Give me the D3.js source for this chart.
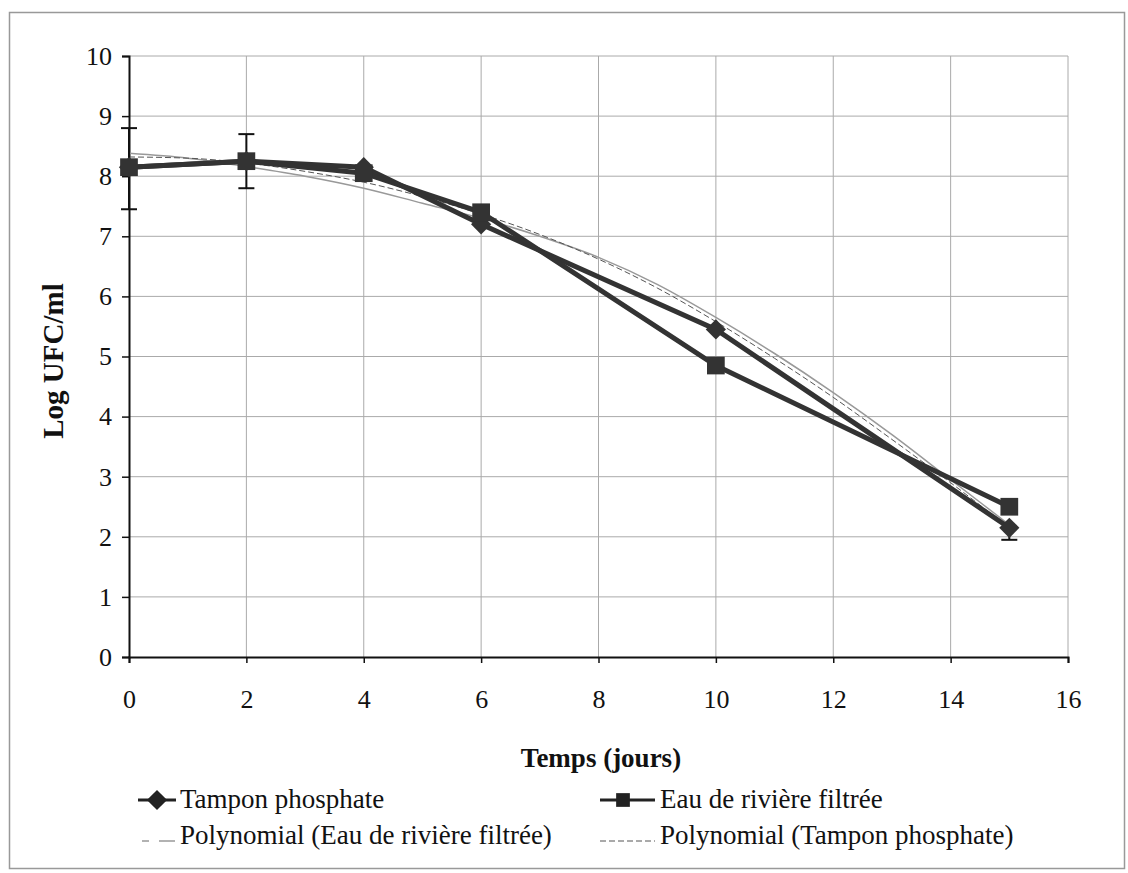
<!DOCTYPE html>
<html>
<head>
<meta charset="utf-8">
<script src="https://d3js.org/d3.v7.min.js"></script>
<style>
  body { margin: 0; background: #fff; }
  svg text { font-family: "Liberation Serif", "DejaVu Serif", serif; fill: #111; }
</style>
</head>
<body>
<div id="chart"></div>
<script>
// data
var days = [0, 2, 4, 6, 10, 15];
var tampon = [8.15, 8.25, 8.15, 7.2, 5.45, 2.15];
var eau = [8.15, 8.25, 8.05, 7.4, 4.85, 2.5];
var errLow = [7.45, 7.8, null, null, null, 1.95];
var errHigh = [8.8, 8.7, null, null, null, 2.15];

// trendlines, sampled every day
var trendDays = [0, 1, 2, 3, 4, 5, 6, 7, 8, 9, 10, 11, 12, 13, 14, 15];
var trendEau = [8.38, 8.3, 8.16, 8.0, 7.8, 7.55, 7.3, 7.0, 6.65, 6.2, 5.65, 5.05, 4.4, 3.7, 2.95, 2.2];
var trendTampon = [8.32, 8.3, 8.22, 8.08, 7.9, 7.66, 7.37, 7.03, 6.62, 6.14, 5.58, 4.97, 4.32, 3.62, 2.9, 2.15];

var xTicks = [0, 2, 4, 6, 8, 10, 12, 14, 16];
var yTicks = [0, 1, 2, 3, 4, 5, 6, 7, 8, 9, 10];

var svgW = 1128, svgH = 873;
var margin = {top: 56, right: 60, bottom: 216, left: 129};
var width = 1068 - margin.left;
var height = 657 - margin.top;

var svg = d3.select("#chart").append("svg")
  .attr("width", svgW)
  .attr("height", svgH);

// outer frame
svg.append("rect")
  .attr("x", 9.5).attr("y", 12.5)
  .attr("width", 1115).attr("height", 856)
  .attr("fill", "none").attr("stroke", "#999").attr("stroke-width", 1.5);

var g = svg.append("g").attr("transform", `translate(${margin.left}, ${margin.top})`);

var x = d3.scaleLinear().domain([0, 16]).range([0, width]);
var y = d3.scaleLinear().domain([0, 10]).range([height, 0]);

// gridlines
g.append("g").selectAll("line").data(yTicks.slice(1)).enter().append("line")
  .attr("x1", 0).attr("x2", width)
  .attr("y1", d => y(d)).attr("y2", d => y(d))
  .attr("stroke", "#aaa").attr("stroke-width", 1);
g.append("g").selectAll("line").data(xTicks.slice(1)).enter().append("line")
  .attr("y1", 0).attr("y2", height)
  .attr("x1", d => x(d)).attr("x2", d => x(d))
  .attr("stroke", "#aaa").attr("stroke-width", 1);

// axes
var bottomAxis = d3.axisBottom(x).tickValues(xTicks).tickSize(6).tickPadding(27);
var leftAxis = d3.axisLeft(y).tickValues(yTicks).tickSize(7).tickPadding(10);

var xg = g.append("g").attr("transform", `translate(0, ${height})`).call(bottomAxis);
var yg = g.append("g").call(leftAxis);
[xg, yg].forEach(function(a) {
  a.attr("font-family", null).attr("font-size", null);
  a.select(".domain").attr("stroke", "#111").attr("stroke-width", 2);
  a.selectAll(".tick line").attr("stroke", "#111").attr("stroke-width", 1.5);
  a.selectAll(".tick text").style("font-size", "26px");
});

// trendlines
var trendLine = d3.line().x((d, i) => x(trendDays[i])).y(d => y(d)).curve(d3.curveMonotoneX);
g.append("path").datum(trendEau)
  .attr("d", trendLine).attr("fill", "none")
  .attr("stroke", "#999").attr("stroke-width", 1.5);
g.append("path").datum(trendTampon)
  .attr("d", trendLine).attr("fill", "none")
  .attr("stroke", "#555").attr("stroke-width", 1).attr("stroke-dasharray", "6,3");

// error bars
var errs = days.map((d, i) => ({d: d, lo: errLow[i], hi: errHigh[i]})).filter(e => e.lo != null);
var eg = g.append("g").attr("stroke", "#111").attr("stroke-width", 2);
errs.forEach(function(e) {
  eg.append("line").attr("x1", x(e.d)).attr("x2", x(e.d)).attr("y1", y(e.lo)).attr("y2", y(e.hi));
  eg.append("line").attr("x1", x(e.d) - 8).attr("x2", x(e.d) + 8).attr("y1", y(e.lo)).attr("y2", y(e.lo));
  eg.append("line").attr("x1", x(e.d) - 8).attr("x2", x(e.d) + 8).attr("y1", y(e.hi)).attr("y2", y(e.hi));
});

// series lines
var line = d3.line().x((d, i) => x(days[i])).y(d => y(d));
g.append("path").datum(tampon).attr("d", line)
  .attr("fill", "none").attr("stroke", "#333").attr("stroke-width", 5);
g.append("path").datum(eau).attr("d", line)
  .attr("fill", "none").attr("stroke", "#333").attr("stroke-width", 5);

// markers
var diamond = d3.symbol().type(d3.symbolDiamond2).size(260);
var square = d3.symbol().type(d3.symbolSquare2).size(400);
g.selectAll(".dia").data(tampon).enter().append("path")
  .attr("class", "dia")
  .attr("transform", (d, i) => `translate(${x(days[i])}, ${y(d)})`)
  .attr("d", diamond).attr("fill", "#333");
g.selectAll(".sq").data(eau).enter().append("path")
  .attr("class", "sq")
  .attr("transform", (d, i) => `translate(${x(days[i])}, ${y(d)})`)
  .attr("d", square).attr("fill", "#333");

// axis titles
svg.append("text")
  .attr("transform", "translate(63, 361) rotate(-90)")
  .attr("text-anchor", "middle")
  .style("font-size", "29px").style("font-weight", "bold")
  .text("Log UFC/ml");
svg.append("text")
  .attr("x", 601).attr("y", 767)
  .attr("text-anchor", "middle")
  .style("font-size", "27px").style("font-weight", "bold")
  .text("Temps (jours)");

// legend
var leg = svg.append("g");
function legText(xp, yp, t) {
  leg.append("text").attr("x", xp).attr("y", yp).style("font-size", "27px").text(t);
}
leg.append("line").attr("x1", 138).attr("x2", 176).attr("y1", 800).attr("y2", 800)
  .attr("stroke", "#222").attr("stroke-width", 3);
leg.append("path").attr("transform", "translate(157, 800)").attr("d", diamond).attr("fill", "#222");
legText(180, 808, "Tampon phosphate");

leg.append("line").attr("x1", 600).attr("x2", 655).attr("y1", 800).attr("y2", 800)
  .attr("stroke", "#222").attr("stroke-width", 3);
leg.append("path").attr("transform", "translate(623, 800)")
  .attr("d", d3.symbol().type(d3.symbolSquare2).size(240)).attr("fill", "#222");
legText(660, 808, "Eau de rivière filtrée");

leg.append("line").attr("x1", 142).attr("x2", 175).attr("y1", 841).attr("y2", 841)
  .attr("stroke", "#999").attr("stroke-width", 1.5).attr("stroke-dasharray", "7,10,16");
legText(180, 844, "Polynomial (Eau de rivière filtrée)");

leg.append("line").attr("x1", 600).attr("x2", 655).attr("y1", 841).attr("y2", 841)
  .attr("stroke", "#555").attr("stroke-width", 1).attr("stroke-dasharray", "6,3");
legText(660, 844, "Polynomial (Tampon phosphate)");
</script>
</body>
</html>
